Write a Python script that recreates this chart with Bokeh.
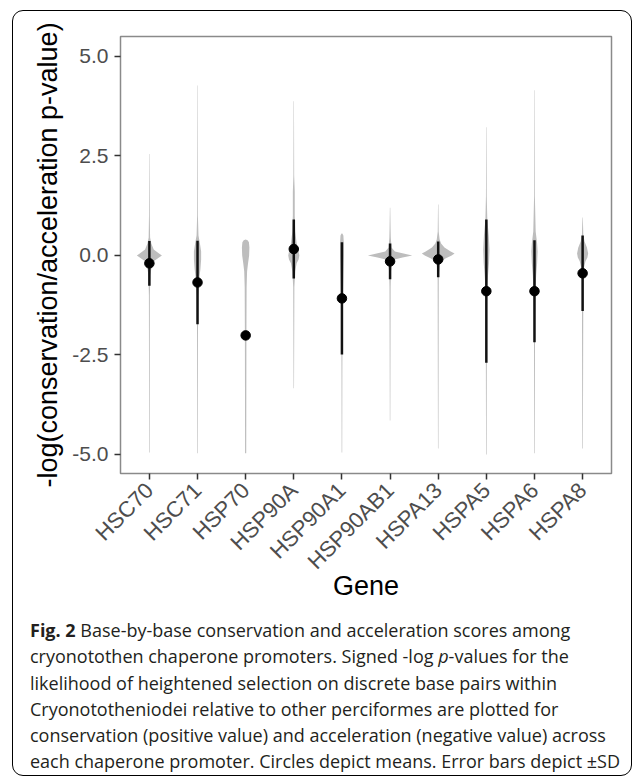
import math
from bokeh.plotting import figure
from bokeh.layouts import column
from bokeh.models import (FactorRange, Range1d, FixedTicker, PrintfTickFormatter, Div)
from bokeh.embed import file_html
from bokeh.resources import INLINE

# ---------------- data ----------------
genes = ["HSC70", "HSC71", "HSP70", "HSP90A", "HSP90A1",
         "HSP90AB1", "HSPA13", "HSPA5", "HSPA6", "HSPA8"]
means = [-0.20, -0.68, -2.01, 0.16, -1.08, -0.15, -0.10, -0.90, -0.90, -0.45]
sds = [0.56, 1.05, None, 0.74, 1.41, 0.45, 0.45, 1.80, 1.28, 0.95]
y_ticks = [-5.0, -2.5, 0.0, 2.5, 5.0]

# violin outlines: (value, half-width in category units)
hsc70_violin = [(2.55, 0.004), (1.0, 0.008), (0.45, 0.015), (0.3, 0.04), (0.15, 0.09),
                (0.05, 0.2), (0.0, 0.26), (-0.05, 0.2), (-0.15, 0.09), (-0.3, 0.045),
                (-0.5, 0.02), (-1.0, 0.01), (-4.95, 0.006)]
hsc71_violin = [(4.27, 0.004), (1.0, 0.008), (0.5, 0.02), (0.3, 0.05), (0.1, 0.075),
                (-0.1, 0.075), (-0.35, 0.06), (-0.6, 0.035), (-1.0, 0.015), (-2.0, 0.01),
                (-4.97, 0.006)]
hsp70_violin = [(0.4, 0.0), (0.38, 0.04), (0.33, 0.068), (0.2, 0.078), (0.0, 0.072),
                (-0.2, 0.05), (-0.4, 0.03), (-0.8, 0.02), (-2.0, 0.016), (-4.97, 0.012)]
hsp90a_violin = [(3.87, 0.004), (2.0, 0.008), (1.6, 0.02), (1.0, 0.02), (0.6, 0.03),
                 (0.3, 0.06), (0.1, 0.1), (0.0, 0.115), (-0.1, 0.1), (-0.2, 0.06),
                 (-0.4, 0.03), (-0.8, 0.012), (-3.34, 0.005)]
hsp90a1_violin = [(0.55, 0.008), (0.5, 0.03), (0.3, 0.04), (0.0, 0.04), (-0.5, 0.03),
                  (-1.0, 0.02), (-2.0, 0.012), (-3.0, 0.009), (-4.95, 0.006)]
hsp90ab1_violin = [(1.2, 0.004), (0.7, 0.01), (0.45, 0.015), (0.2, 0.03), (0.1, 0.1),
                   (0.05, 0.28), (0.0, 0.46), (-0.05, 0.26), (-0.1, 0.09), (-0.17, 0.04),
                   (-0.4, 0.02), (-0.8, 0.012), (-4.15, 0.005)]
hspa13_violin = [(1.28, 0.004), (0.6, 0.01), (0.4, 0.03), (0.3, 0.06), (0.2, 0.13),
                 (0.1, 0.26), (0.05, 0.34), (0.0, 0.28), (-0.08, 0.15), (-0.15, 0.07),
                 (-0.25, 0.03), (-0.5, 0.012), (-4.85, 0.005)]
hspa5_violin = [(3.22, 0.004), (1.5, 0.008), (0.9, 0.02), (0.5, 0.05), (0.15, 0.065),
                (-0.2, 0.055), (-0.5, 0.035), (-0.8, 0.02), (-1.5, 0.012), (-5.0, 0.006)]
hspa6_violin = [(4.15, 0.004), (1.5, 0.008), (0.6, 0.025), (0.3, 0.055), (0.1, 0.065),
                (-0.2, 0.055), (-0.5, 0.035), (-0.9, 0.02), (-1.5, 0.012), (-4.97, 0.006)]
hspa8_violin = [(0.95, 0.004), (0.5, 0.015), (0.35, 0.04), (0.2, 0.09), (0.05, 0.115),
                (-0.05, 0.1), (-0.15, 0.06), (-0.3, 0.03), (-0.6, 0.015), (-4.85, 0.006)]
violins = [hsc70_violin, hsc71_violin, hsp70_violin, hsp90a_violin, hsp90a1_violin,
           hsp90ab1_violin, hspa13_violin, hspa5_violin, hspa6_violin, hspa8_violin]

y_title = "-log(conservation/acceleration p-value)"
x_title = "Gene"
caption_lines = [
    "<b>Fig. 2</b> Base-by-base conservation and acceleration scores among",
    "cryonotothen chaperone promoters. Signed -log <i>p</i>-values for the",
    "likelihood of heightened selection on discrete base pairs within",
    "Cryonototheniodei relative to other perciformes are plotted for",
    "conservation (positive value) and acceleration (negative value) across",
    "each chaperone promoter. Circles depict means. Error bars depict \u00b1SD",
]

# ---------------- figure ----------------
W, H1, H2 = 620, 605, 161
p = figure(width=W, height=H1,
           x_range=FactorRange(*genes, range_padding=0.1, range_padding_units="absolute"),
           y_range=Range1d(-5.48, 5.5),
           output_backend="svg", toolbar_location=None,
           min_border_left=108, min_border_right=21,
           min_border_top=26, min_border_bottom=142)
p.background_fill_color = "white"
p.border_fill_color = None
p.xgrid.grid_line_color = None
p.ygrid.grid_line_color = None
p.outline_line_color = "#8a8a8a"
p.outline_line_width = 1.5

# violins
vx, vy = [], []
for i, prof in enumerate(violins):
    c = i + 0.5
    right = [(c + w, y) for y, w in prof]
    left = [(c - w, y) for y, w in reversed(prof)]
    pts = right + left
    vx.append([q[0] for q in pts])
    vy.append([q[1] for q in pts])
p.patches(vx, vy, fill_color="#bdbdbd", line_color=None)

# error bars (mean +- SD)
eg = [g for g, s in zip(genes, sds) if s is not None]
e0 = [m - s for m, s in zip(means, sds) if s is not None]
e1 = [m + s for m, s in zip(means, sds) if s is not None]
p.segment(x0=eg, y0=e0, x1=eg, y1=e1, line_color="#111111", line_width=2.5)
p.scatter(genes, means, size=9.5, fill_color="black", line_color="black")

# axes
for ax in (p.xaxis[0], p.yaxis[0]):
    ax.axis_line_color = None
    ax.major_tick_out = 6
    ax.major_tick_in = 0
    ax.minor_tick_line_color = None
    ax.major_tick_line_color = "#333333"
    ax.major_tick_line_width = 1.5
    ax.major_label_text_font = "Liberation Sans"
    ax.major_label_text_color = "#4d4d4d"
    ax.major_label_text_font_size = "21px"
    ax.axis_label_text_font = "Liberation Sans"
    ax.axis_label_text_font_size = "27px"
    ax.axis_label_text_font_style = "normal"
    ax.axis_label_text_color = "black"

p.xaxis.major_label_text_font_size = "22px"
p.yaxis.ticker = FixedTicker(ticks=y_ticks)
p.yaxis.formatter = PrintfTickFormatter(format="%.1f")
p.yaxis.major_label_standoff = 6
p.yaxis.axis_label = y_title
p.yaxis.axis_label_standoff = 6
p.xaxis.axis_label = x_title
p.xaxis.major_label_orientation = math.pi / 4
p.xaxis.major_label_standoff = 7
p.xaxis.axis_label_standoff = -15

# caption
cap_html = ("<div style=\"font-family:'Open Sans'; font-size:18px; line-height:26.3px; "
            "color:#231f20; padding:2px 0 0 18px; margin:0; white-space:nowrap;\">"
            + "<br>".join(caption_lines) + "</div>")
caption = Div(text=cap_html, width=W, height=H2, margin=0)

layout = column(p, caption, spacing=0,
                styles={"margin-left": "12px", "margin-top": "10px",
                        "outline": "1.6px solid #000000", "outline-offset": "-1.6px",
                        "border-radius": "11px"})

open("out.html", "w").write(file_html(layout, INLINE))
